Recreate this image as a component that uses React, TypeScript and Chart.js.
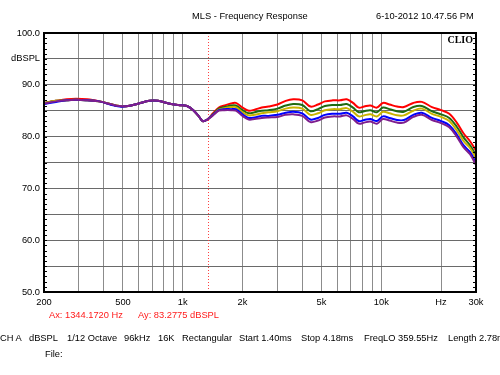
import React, { useEffect, useRef } from 'react';
import { Chart, registerables } from 'chart.js';

Chart.register(...registerables);

// ---- data ----
const freqs = [200, 230, 260, 290, 330, 380, 430, 480, 530, 600, 680, 750, 850, 950, 1050, 1130, 1200, 1260, 1330,
  1420, 1520, 1620, 1750, 1850,
  2000, 2150, 2300, 2500, 2700, 3000, 3300, 3600, 4000, 4400, 4800,
  5200, 5700, 6200, 6700, 7200, 7700, 8200, 8800, 9500,
  10200, 11000, 12000, 13000, 14500, 16000, 18000, 20000, 22000, 24000, 26000, 28000, 30000];

const redSeries = [86.5, 86.9, 87.2, 87.3, 87.2, 86.8, 86.3, 85.9, 85.9, 86.4, 86.9, 86.9, 86.4, 86.1, 85.9, 85.1, 84.0, 83.0, 83.3,
  84.5, 85.6, 86.0, 86.4, 86.5,
  85.6, 85.0, 85.2, 85.6, 85.8, 86.2, 86.9, 87.2, 87.0, 85.8, 86.2,
  86.8, 87.0, 87.0, 87.2, 86.5, 85.6, 85.8, 86.0, 85.6,
  86.5, 86.2, 85.8, 85.7, 86.5, 86.7, 85.7, 85.1, 84.4, 82.7, 80.6, 79.1, 77.3];

const greenSeries = [86.5, 86.9, 87.0, 87.1, 87.0, 86.8, 86.3, 85.9, 85.9, 86.4, 86.9, 86.9, 86.4, 86.1, 85.9, 85.1, 84.0, 83.0, 83.3,
  84.3, 85.4, 85.7, 86.0, 86.0,
  85.1, 84.5, 84.7, 85.0, 85.1, 85.4, 86.0, 86.3, 86.1, 84.9, 85.3,
  85.9, 86.1, 86.1, 86.3, 85.6, 84.7, 84.9, 85.1, 84.7,
  85.6, 85.3, 84.9, 84.8, 85.7, 85.9, 84.9, 84.3, 83.6, 81.9, 79.8, 78.3, 76.4];

const yellowSeries = [86.5, 86.9, 87.0, 87.1, 87.0, 86.8, 86.3, 85.9, 85.9, 86.4, 86.9, 86.9, 86.4, 86.1, 85.9, 85.1, 84.0, 83.0, 83.3,
  84.2, 85.2, 85.5, 85.7, 85.7,
  84.7, 84.1, 84.2, 84.5, 84.7, 84.9, 85.4, 85.6, 85.4, 84.2, 84.5,
  85.1, 85.3, 85.3, 85.5, 84.8, 83.9, 84.1, 84.3, 83.9,
  84.8, 84.5, 84.1, 84.1, 85.0, 85.4, 84.4, 83.8, 83.0, 81.2, 79.1, 77.8, 75.8];

const blueSeries = [86.3, 86.7, 87.0, 87.1, 87.0, 86.8, 86.2, 85.8, 85.9, 86.4, 86.9, 86.9, 86.4, 86.1, 85.9, 85.1, 84.0, 83.0, 83.3,
  84.2, 85.1, 85.3, 85.3, 85.3,
  84.3, 83.6, 83.7, 84.0, 84.0, 84.2, 84.6, 84.8, 84.5, 83.3, 83.6,
  84.2, 84.4, 84.4, 84.6, 83.9, 83.0, 83.2, 83.4, 83.0,
  83.9, 83.6, 83.2, 83.2, 84.2, 84.6, 83.6, 83.0, 82.2, 80.4, 78.3, 77.0, 74.9];

const purpleSeries = [86.4, 86.8, 87.0, 87.1, 87.0, 86.8, 86.3, 85.9, 85.9, 86.4, 86.9, 86.9, 86.4, 86.1, 85.9, 85.1, 84.0, 83.0, 83.3,
  84.1, 85.0, 85.1, 85.1, 85.0,
  84.0, 83.3, 83.4, 83.6, 83.7, 83.8, 84.2, 84.3, 84.0, 82.8, 83.1,
  83.7, 83.9, 83.9, 84.1, 83.4, 82.5, 82.7, 82.9, 82.5,
  83.4, 83.1, 82.7, 82.7, 83.8, 84.2, 83.2, 82.6, 81.8, 80.0, 77.9, 76.6, 74.5];

const xTickValues = [200, 300, 400, 500, 600, 700, 800, 900, 1000, 2000, 3000, 4000, 5000, 6000, 7000, 8000, 9000, 10000, 20000, 30000];
const xTickLabels: Record<number, string> = { 200: '200', 500: '500', 1000: '1k', 2000: '2k', 5000: '5k', 10000: '10k', 20000: 'Hz', 30000: '30k' };
const yUnitLabel = 'dBSPL';
const cursorFreq = 1344.172;

const titleText = 'MLS - Frequency Response';
const dateText = '6-10-2012 10.47.56 PM';
const brandText = 'CLIO';
const cursorTexts = [
  { text: 'Ax: 1344.1720 Hz', left: 49 },
  { text: 'Ay: 83.2775 dBSPL', left: 138 },
];
const infoItems = [
  { text: 'CH A', left: 0 },
  { text: 'dBSPL', left: 29 },
  { text: '1/12 Octave', left: 67 },
  { text: '96kHz', left: 124 },
  { text: '16K', left: 158 },
  { text: 'Rectangular', left: 182 },
  { text: 'Start 1.40ms', left: 239 },
  { text: 'Stop 4.18ms', left: 301 },
  { text: 'FreqLO 359.55Hz', left: 364 },
  { text: 'Length 2.78ms', left: 448 },
];
const fileText = 'File:';

const FONT = '"Liberation Sans", Arial, sans-serif';

const framePlugin = {
  id: 'clioFrame',
  beforeDatasetsDraw(chart: any) {
    const { ctx, chartArea: a, scales } = chart;
    const px = Math.round(scales.x.getPixelForValue(cursorFreq)) + 0.5;
    ctx.save();
    ctx.strokeStyle = '#ff4040';
    ctx.lineWidth = 1;
    ctx.setLineDash([1, 2]);
    ctx.beginPath();
    ctx.moveTo(px, a.top);
    ctx.lineTo(px, a.bottom);
    ctx.stroke();
    ctx.restore();
  },
  afterDatasetsDraw(chart: any) {
    const { ctx, chartArea: a, scales } = chart;
    ctx.save();
    ctx.strokeStyle = '#000';
    ctx.lineWidth = 1;
    for (let v = 50; v <= 100; v += 1) {
      const y = Math.round(scales.y.getPixelForValue(v)) + 0.5;
      ctx.beginPath();
      ctx.moveTo(a.left, y);
      ctx.lineTo(a.left + 3, y);
      ctx.moveTo(a.right - 3, y);
      ctx.lineTo(a.right, y);
      ctx.stroke();
    }
    ctx.lineWidth = 2;
    ctx.strokeRect(a.left, a.top, a.right - a.left, a.bottom - a.top);
    ctx.fillStyle = '#000';
    ctx.font = 'bold 10px "Liberation Serif", "Times New Roman", serif';
    ctx.textAlign = 'right';
    ctx.textBaseline = 'top';
    ctx.fillText(brandText, a.right - 3, a.top + 2);
    ctx.restore();
  },
};

export default function App() {
  const ref = useRef<HTMLCanvasElement>(null);

  useEffect(() => {
    if (!ref.current) return;
    const mk = (label: string, values: number[], color: string, order: number) => ({
      label,
      data: freqs.map((f, i) => ({ x: f, y: values[i] })),
      borderColor: color,
      backgroundColor: color,
      borderWidth: 2,
      pointRadius: 0,
      tension: 0.35,
      fill: false,
      order,
    });
    const chart = new Chart(ref.current, {
      type: 'line',
      data: {
        datasets: [
          mk('red', redSeries, '#ff0000', 5),
          mk('green', greenSeries, '#1f6a12', 4),
          mk('yellow', yellowSeries, '#c9b300', 3),
          mk('blue', blueSeries, '#0000ff', 2),
          mk('purple', purpleSeries, '#7e1e8e', 1),
        ],
      },
      options: {
        animation: false,
        responsive: false,
        devicePixelRatio: 1,
        layout: { padding: { top: 33, right: 24, left: 0, bottom: 0 } },
        plugins: { legend: { display: false }, tooltip: { enabled: false }, title: { display: false } },
        scales: {
          x: {
            type: 'logarithmic',
            min: 200,
            max: 30000,
            afterBuildTicks: (s: any) => {
              s.ticks = xTickValues.map((v) => ({ value: v }));
            },
            afterFit: (s: any) => {
              s.height = 83;
            },
            ticks: {
              autoSkip: false,
              maxRotation: 0,
              minRotation: 0,
              padding: 5,
              color: '#000',
              font: { family: FONT, size: 9.3 },
              callback: (v: any) => xTickLabels[Math.round(Number(v))] ?? '',
            },
            grid: { color: '#8c8c8c', lineWidth: 1, drawTicks: false },
            border: { display: false },
          },
          y: {
            min: 50,
            max: 100,
            afterFit: (s: any) => {
              s.width = 44;
            },
            ticks: {
              stepSize: 5,
              autoSkip: false,
              padding: 4,
              color: '#000',
              font: { family: FONT, size: 9.3 },
              callback: (v: any) => {
                const n = Number(v);
                if (n === 95) return yUnitLabel;
                return n % 10 === 0 ? n.toFixed(1) : '';
              },
            },
            grid: { color: '#6a6a6a', lineWidth: 1, drawTicks: false },
            border: { display: false },
          },
        },
      },
      plugins: [framePlugin],
    } as any);
    return () => chart.destroy();
  }, []);

  const txt = (left: number, center: number, color = '#000'): React.CSSProperties => ({
    position: 'absolute',
    left,
    top: center - 6,
    lineHeight: '12px',
    fontSize: '9.3px',
    fontFamily: FONT,
    color,
    whiteSpace: 'nowrap',
  });

  return (
    <div style={{ position: 'absolute', left: 0, top: 0, width: 500, height: 375, overflow: 'hidden', background: '#fff' }}>
      <canvas ref={ref} width={500} height={375} style={{ position: 'absolute', left: 0, top: 0, width: 500, height: 375 }} />
      <div style={txt(192, 16)}>{titleText}</div>
      <div style={txt(376, 16)}>{dateText}</div>
      {cursorTexts.map((c) => (
        <div key={c.text} style={txt(c.left, 315, '#ff1a1a')}>{c.text}</div>
      ))}
      {infoItems.map((c) => (
        <div key={c.text} style={txt(c.left, 338)}>{c.text}</div>
      ))}
      <div style={txt(45, 354)}>{fileText}</div>
    </div>
  );
}
